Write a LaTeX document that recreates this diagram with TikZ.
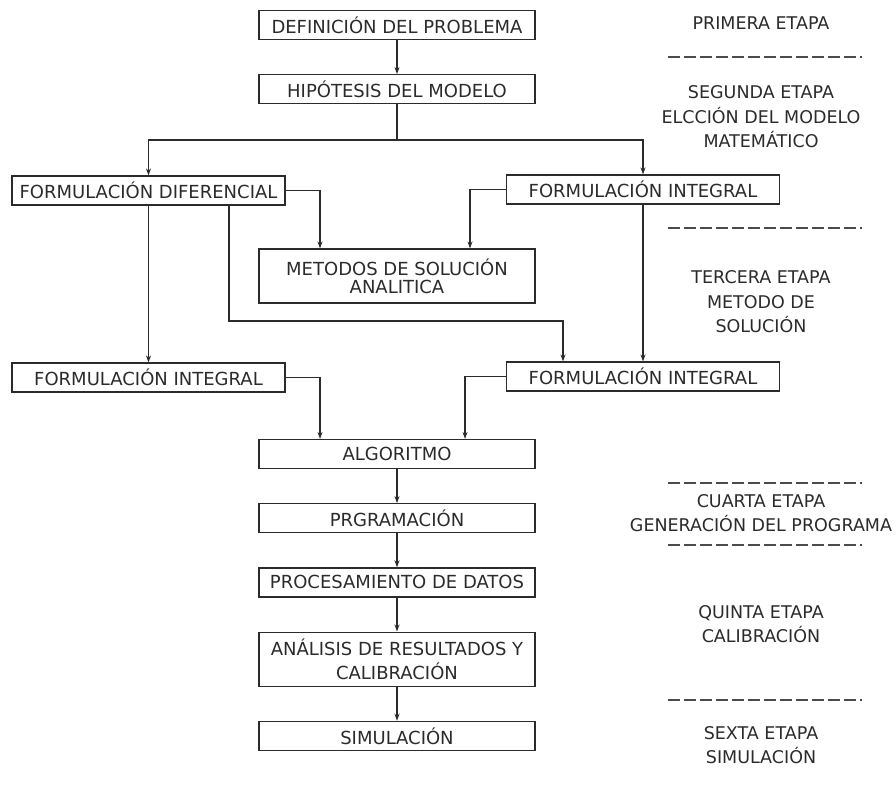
\documentclass[tikz,border=0pt]{standalone}
\usepackage{fontspec}
\setmainfont{DejaVu Sans}
\usetikzlibrary{positioning,arrows.meta}

\definecolor{ink}{HTML}{2B2B2B}

\tikzset{
  box/.style={draw=ink, line width=1.2pt, text=ink, inner sep=2pt,
    minimum height=29pt, font=\fontsize{18}{21}\selectfont, align=center},
  midbox/.style={box, minimum width=276pt},
  sidebox/.style={box, minimum width=273pt},
  link/.style={draw=ink, line width=1.2pt, -{Stealth[length=7pt,width=5pt]}},
  stage/.style={text=ink, inner sep=0pt, align=center,
    font=\fontsize{17.5}{24.5}\selectfont},
  sep/.style={draw=ink!85, line width=1.3pt, dash pattern=on 12pt off 4pt},
}

\begin{document}
\begin{tikzpicture}[x=1pt, y=-1pt, node distance=34pt]
  \useasboundingbox (0,0) rectangle (896,798);

  % central column
  \node[midbox] (def) at (397,25) {DEFINICIÓN DEL PROBLEMA};
  \node[midbox] (hip) [below=of def] {HIPÓTESIS DEL MODELO};
  \node[sidebox] (fd) at (148.5,190.5) {FORMULACIÓN DIFERENCIAL};
  \node[sidebox] (fi1) at (643,189.5) {FORMULACIÓN INTEGRAL};
  \node[midbox, minimum height=54pt] (met) at (397,276)
    {METODOS DE SOLUCIÓN\\[-3pt] ANALITICA};
  \node[sidebox] (fi2) at (148.5,377.5) {FORMULACIÓN INTEGRAL};
  \node[sidebox] (fi3) at (643,376.5) {FORMULACIÓN INTEGRAL};
  \node[midbox] (alg) at (397,454) {ALGORITMO};
  \node[midbox] (prog) [below=of alg] {PRGRAMACIÓN};
  \node[midbox] (proc) [below=of prog] {PROCESAMIENTO DE DATOS};
  \node[midbox, minimum height=54pt] (anal) [below=of proc]
    {ANÁLISIS DE RESULTADOS Y\\[3pt] CALIBRACIÓN};
  \node[midbox] (sim) [below=of anal] {SIMULACIÓN};

  \coordinate (split) at (397,140);
  \coordinate (c1) at (229,321);
  \coordinate (c2) at (563,321);

  % connectors
  \draw[link] (def) -- (hip);
  \draw[draw=ink, line width=1.2pt] (hip) -- (split);
  \draw[link] (split) -| (fd);
  \draw[link] (split) -| (fi1);
  \draw[link] (fd.east) -| ([xshift=-77pt]met.north);
  \draw[link] (fi1.west) -| ([xshift=73pt]met.north);
  \draw[link] (fd) -- (fi2);
  \draw[link] (fd.south -| c1) -- (c1) -- (c2) -- (fi3.north -| c2);
  \draw[link] (fi1) -- (fi3);
  \draw[link] (fi2.east) -| ([xshift=-77pt]alg.north);
  \draw[link] (fi3.west) -| ([xshift=68pt]alg.north);
  \draw[link] (alg) -- (prog);
  \draw[link] (prog) -- (proc);
  \draw[link] (proc) -- (anal);
  \draw[link] (anal) -- (sim);

  % stages
  \node[stage] (st1) at (761,23) {PRIMERA ETAPA};
  \node[stage] (st2) at (761,117) {SEGUNDA ETAPA\\ ELCCIÓN DEL MODELO\\ MATEMÁTICO};
  \node[stage] (st3) at (761,302) {TERCERA ETAPA\\ METODO DE\\ SOLUCIÓN};
  \node[stage] (st4) at (761,513) {CUARTA ETAPA\\ GENERACIÓN DEL PROGRAMA};
  \node[stage] (st5) at (761,624) {QUINTA ETAPA\\ CALIBRACIÓN};
  \node[stage] (st6) at (761,745) {SEXTA ETAPA\\ SIMULACIÓN};

  \foreach \y in {57,228,483,545,700}
    \draw[sep] (668,\y) -- (862,\y);
\end{tikzpicture}
\end{document}
